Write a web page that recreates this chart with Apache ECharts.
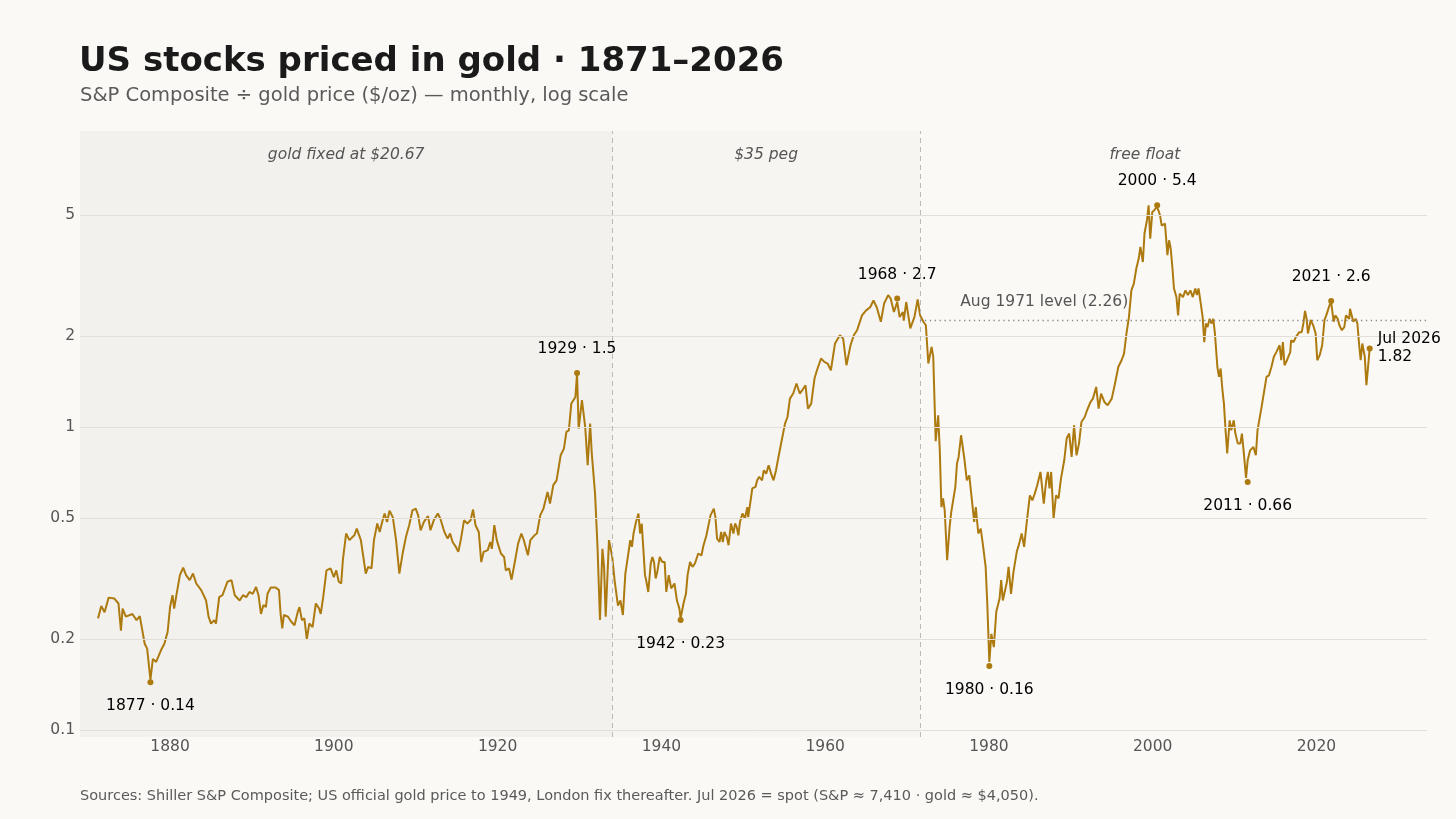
<!DOCTYPE html>
<html>
<head>
<meta charset="utf-8">
<script src="https://cdn.jsdelivr.net/npm/echarts@6/dist/echarts.min.js"></script>
<style>
  html, body { margin: 0; padding: 0; background: #faf9f6; }
  #chart { width: 1456px; height: 819px; }
</style>
</head>
<body>
<div id="chart"></div>
<script>
// Monthly-ish readings of S&P Composite / gold price (ratio), decimal years
const years = [
  1871.2, 1871.6, 1872.0, 1872.5, 1873.2, 1873.7, 1874.0, 1874.2, 1874.6, 1875.4, 1875.9, 1876.3, 1876.9, 1877.2, 1877.6, 1877.9, 1878.3, 1878.9, 1879.3, 1879.7,
  1880.0, 1880.3, 1880.5, 1880.8, 1881.2, 1881.6, 1881.95, 1882.4, 1882.8, 1883.2, 1883.8, 1884.4, 1884.7, 1885.0, 1885.4, 1885.6, 1886.0, 1886.4, 1887.0, 1887.5,
  1887.9, 1888.5, 1888.9, 1889.3, 1889.7, 1890.1, 1890.5, 1890.8, 1891.1, 1891.4, 1891.7, 1891.9, 1892.3, 1892.9, 1893.3, 1893.5, 1893.7, 1893.9, 1894.4, 1894.8,
  1895.2, 1895.6, 1895.8, 1896.1, 1896.4, 1896.7, 1897.0, 1897.4, 1897.8, 1898.2, 1898.4, 1898.7, 1899.1, 1899.6, 1900.0, 1900.3, 1900.6, 1900.9, 1901.1, 1901.5,
  1901.9, 1902.5, 1902.8, 1903.3, 1903.9, 1904.2, 1904.6, 1904.9, 1905.3, 1905.6, 1905.9, 1906.2, 1906.5, 1906.8, 1907.2, 1907.6, 1908.0, 1908.4, 1908.8, 1909.2,
  1909.6, 1910.0, 1910.3, 1910.6, 1911.0, 1911.5, 1911.8, 1912.2, 1912.7, 1913.0, 1913.5, 1913.9, 1914.2, 1914.5, 1914.9, 1915.2, 1915.5, 1915.9, 1916.3, 1916.7,
  1917.0, 1917.3, 1917.7, 1918.0, 1918.3, 1918.8, 1919.1, 1919.3, 1919.6, 1919.9, 1920.4, 1920.8, 1921.0, 1921.4, 1921.7, 1922.1, 1922.5, 1922.9, 1923.2, 1923.7,
  1924.0, 1924.5, 1924.8, 1925.2, 1925.6, 1926.1, 1926.4, 1926.8, 1927.2, 1927.7, 1928.1, 1928.4, 1928.7, 1929.0, 1929.5, 1929.7, 1929.9, 1930.3, 1930.7, 1931.0,
  1931.3, 1931.5, 1931.9, 1932.2, 1932.5, 1932.8, 1933.0, 1933.2, 1933.6, 1934.0, 1934.3, 1934.7, 1935.0, 1935.3, 1935.6, 1935.9, 1936.2, 1936.4, 1936.6, 1936.9,
  1937.2, 1937.4, 1937.6, 1938.0, 1938.1, 1938.4, 1938.7, 1938.9, 1939.1, 1939.3, 1939.5, 1939.8, 1940.1, 1940.4, 1940.6, 1940.9, 1941.2, 1941.6, 1941.9, 1942.2,
  1942.35, 1942.7, 1943.0, 1943.2, 1943.5, 1943.8, 1944.1, 1944.5, 1944.9, 1945.1, 1945.5, 1946.0, 1946.4, 1946.6, 1946.8, 1947.1, 1947.3, 1947.5, 1947.7, 1948.0,
  1948.2, 1948.5, 1948.8, 1949.0, 1949.2, 1949.4, 1949.6, 1949.9, 1950.2, 1950.5, 1950.6, 1950.9, 1951.1, 1951.5, 1951.7, 1951.95, 1952.3, 1952.5, 1952.8, 1953.1,
  1953.4, 1953.7, 1954.0, 1954.3, 1954.7, 1955.1, 1955.4, 1955.7, 1956.1, 1956.5, 1956.9, 1957.2, 1957.6, 1957.9, 1958.3, 1958.7, 1959.0, 1959.5, 1959.9, 1960.3,
  1960.7, 1961.2, 1961.8, 1962.2, 1962.6, 1962.8, 1963.1, 1963.5, 1963.9, 1964.5, 1965.0, 1965.5, 1965.9, 1966.3, 1966.8, 1967.2, 1967.7, 1968.0, 1968.4, 1968.8,
  1969.1, 1969.5, 1969.6, 1969.9, 1970.4, 1970.9, 1971.3, 1971.6, 1972.0, 1972.3, 1972.6, 1973.0, 1973.2, 1973.5, 1973.8, 1974.0, 1974.2, 1974.4, 1974.6, 1974.9,
  1975.2, 1975.4, 1975.6, 1975.9, 1976.1, 1976.3, 1976.6, 1977.0, 1977.3, 1977.6, 1977.9, 1978.2, 1978.4, 1978.7, 1979.0, 1979.3, 1979.6, 1979.8, 1980.05, 1980.3,
  1980.6, 1980.9, 1981.3, 1981.5, 1981.7, 1982.2, 1982.4, 1982.7, 1983.0, 1983.4, 1983.7, 1984.0, 1984.3, 1984.6, 1985.0, 1985.3, 1985.6, 1985.9, 1986.3, 1986.7,
  1987.0, 1987.2, 1987.4, 1987.6, 1987.9, 1988.2, 1988.5, 1988.8, 1989.2, 1989.5, 1989.8, 1990.1, 1990.4, 1990.7, 1991.0, 1991.3, 1991.7, 1992.0, 1992.4, 1992.7,
  1993.1, 1993.4, 1993.7, 1994.1, 1994.5, 1995.0, 1995.4, 1995.8, 1996.2, 1996.5, 1996.8, 1997.1, 1997.4, 1997.7, 1998.0, 1998.3, 1998.5, 1998.8, 1999.0, 1999.3,
  1999.5, 1999.7, 1999.95, 2000.2, 2000.5, 2000.7, 2000.9, 2001.1, 2001.5, 2001.8, 2002.0, 2002.2, 2002.4, 2002.6, 2002.9, 2003.1, 2003.3, 2003.7, 2004.0, 2004.3,
  2004.6, 2004.9, 2005.2, 2005.4, 2005.6, 2005.9, 2006.1, 2006.3, 2006.5, 2006.7, 2006.95, 2007.2, 2007.4, 2007.6, 2007.9, 2008.1, 2008.3, 2008.5, 2008.7, 2008.9,
  2009.1, 2009.4, 2009.6, 2009.9, 2010.1, 2010.4, 2010.7, 2010.9, 2011.1, 2011.4, 2011.6, 2011.9, 2012.3, 2012.6, 2012.8, 2013.3, 2013.5, 2013.9, 2014.2, 2014.5,
  2014.8, 2015.1, 2015.5, 2015.7, 2015.9, 2016.1, 2016.4, 2016.8, 2016.9, 2017.2, 2017.5, 2017.9, 2018.2, 2018.4, 2018.6, 2018.8, 2018.96, 2019.3, 2019.6, 2019.9,
  2020.1, 2020.4, 2020.7, 2020.98, 2021.2, 2021.6, 2021.8, 2022.1, 2022.3, 2022.6, 2022.8, 2023.1, 2023.4, 2023.6, 2024.0, 2024.1, 2024.5, 2024.8, 2025.0, 2025.2,
  2025.4, 2025.6, 2025.9, 2026.1, 2026.3, 2026.5
];
const ratios = [
  0.234, 0.257, 0.245, 0.274, 0.272, 0.262, 0.213, 0.252, 0.237, 0.242, 0.231, 0.238, 0.193, 0.186, 0.147, 0.172, 0.168, 0.184, 0.193, 0.211,
  0.255, 0.279, 0.252, 0.282, 0.325, 0.344, 0.325, 0.313, 0.329, 0.305, 0.290, 0.268, 0.237, 0.225, 0.231, 0.225, 0.275, 0.279, 0.309, 0.313,
  0.279, 0.268, 0.279, 0.275, 0.286, 0.282, 0.297, 0.279, 0.242, 0.259, 0.255, 0.282, 0.296, 0.296, 0.290, 0.242, 0.217, 0.240, 0.237, 0.228,
  0.222, 0.246, 0.255, 0.231, 0.234, 0.200, 0.225, 0.219, 0.262, 0.252, 0.242, 0.275, 0.337, 0.342, 0.320, 0.337, 0.309, 0.305, 0.364, 0.446,
  0.424, 0.440, 0.463, 0.424, 0.329, 0.346, 0.342, 0.424, 0.481, 0.451, 0.487, 0.519, 0.487, 0.530, 0.505, 0.424, 0.329, 0.383, 0.434, 0.475,
  0.532, 0.539, 0.512, 0.457, 0.487, 0.509, 0.457, 0.493, 0.519, 0.500, 0.451, 0.429, 0.446, 0.418, 0.403, 0.388, 0.424, 0.493, 0.481, 0.493,
  0.535, 0.475, 0.451, 0.359, 0.388, 0.393, 0.418, 0.397, 0.475, 0.424, 0.383, 0.373, 0.337, 0.342, 0.314, 0.359, 0.413, 0.446, 0.424, 0.378,
  0.424, 0.440, 0.446, 0.512, 0.539, 0.612, 0.560, 0.644, 0.668, 0.808, 0.850, 0.965, 0.977, 1.197, 1.259, 1.50, 0.990, 1.228, 1.00, 0.749,
  1.028, 0.819, 0.604, 0.403, 0.231, 0.397, 0.346, 0.237, 0.424, 0.373, 0.310, 0.258, 0.268, 0.240, 0.329, 0.373, 0.424, 0.403, 0.446, 0.487,
  0.519, 0.446, 0.481, 0.325, 0.317, 0.286, 0.355, 0.373, 0.359, 0.317, 0.333, 0.373, 0.359, 0.359, 0.286, 0.325, 0.294, 0.305, 0.268, 0.252,
  0.234, 0.262, 0.282, 0.325, 0.359, 0.346, 0.355, 0.383, 0.378, 0.403, 0.440, 0.512, 0.539, 0.505, 0.429, 0.418, 0.451, 0.418, 0.451, 0.434,
  0.408, 0.481, 0.446, 0.481, 0.469, 0.440, 0.487, 0.519, 0.500, 0.545, 0.505, 0.574, 0.628, 0.636, 0.668, 0.686, 0.668, 0.721, 0.703, 0.749,
  0.703, 0.668, 0.721, 0.798, 0.906, 1.028, 1.081, 1.243, 1.292, 1.394, 1.292, 1.325, 1.376, 1.152, 1.197, 1.448, 1.542, 1.686, 1.643, 1.623,
  1.542, 1.888, 2.013, 1.961, 1.602, 1.623, 1.865, 2.013, 2.09, 2.34, 2.43, 2.49, 2.62, 2.49, 2.23, 2.56, 2.73, 2.66, 2.40, 2.59,
  2.31, 2.40, 2.25, 2.59, 2.12, 2.31, 2.64, 2.34, 2.23, 2.17, 1.623, 1.84, 1.71, 0.90, 1.095, 0.839, 0.545, 0.582, 0.532, 0.364,
  0.469, 0.525, 0.519, 0.636, 0.759, 0.798, 0.941, 0.788, 0.668, 0.694, 0.582, 0.487, 0.545, 0.446, 0.463, 0.403, 0.346, 0.262, 0.168, 0.208,
  0.188, 0.246, 0.272, 0.313, 0.268, 0.309, 0.346, 0.282, 0.333, 0.388, 0.413, 0.446, 0.403, 0.481, 0.596, 0.574, 0.604, 0.644, 0.712, 0.560,
  0.668, 0.712, 0.628, 0.712, 0.500, 0.596, 0.582, 0.677, 0.778, 0.92, 0.953, 0.798, 1.015, 0.808, 0.883, 1.041, 1.081, 1.14, 1.21, 1.243,
  1.358, 1.152, 1.292, 1.212, 1.182, 1.243, 1.394, 1.581, 1.664, 1.751, 2.04, 2.31, 2.83, 2.98, 3.34, 3.61, 3.94, 3.51, 4.36, 4.82,
  5.40, 4.19, 5.13, 5.20, 5.35, 5.20, 5.0, 4.63, 4.70, 3.70, 4.14, 3.89, 3.38, 2.87, 2.69, 2.34, 2.76, 2.69, 2.83, 2.73,
  2.83, 2.69, 2.87, 2.73, 2.87, 2.53, 2.31, 1.91, 2.20, 2.14, 2.28, 2.20, 2.28, 2.04, 1.581, 1.466, 1.562, 1.342, 1.197, 0.977,
  0.819, 1.054, 0.977, 1.054, 0.953, 0.883, 0.883, 0.953, 0.839, 0.68, 0.778, 0.839, 0.861, 0.808, 0.977, 1.167, 1.259, 1.466, 1.484, 1.581,
  1.71, 1.77, 1.865, 1.664, 1.91, 1.602, 1.664, 1.77, 1.937, 1.91, 1.987, 2.06, 2.06, 2.20, 2.42, 2.28, 2.04, 2.26, 2.17, 2.04,
  1.664, 1.73, 1.865, 2.26, 2.34, 2.53, 2.58, 2.23, 2.34, 2.28, 2.17, 2.09, 2.14, 2.34, 2.28, 2.46, 2.23, 2.28, 2.20, 1.89,
  1.664, 1.89, 1.71, 1.376, 1.581, 1.82
];

// Highs and lows called out on the chart
const annYears = [1877.6, 1929.7, 1942.35, 1968.8, 1980.05, 2000.55, 2011.6, 2021.8, 2026.5];
const annValues = [0.144, 1.51, 0.231, 2.66, 0.163, 5.40, 0.66, 2.61, 1.82];
const annLabels = ['1877 · 0.14', '1929 · 1.5', '1942 · 0.23', '1968 · 2.7', '1980 · 0.16', '2000 · 5.4', '2011 · 0.66', '2021 · 2.6', 'Jul 2026\n1.82'];
const annSides = ['bottom', 'top', 'bottom', 'top', 'bottom', 'top', 'bottom', 'top', 'right'];

// Monetary regimes
const regimeNames = ['gold fixed at $20.67', '$35 peg', 'free float'];
const regimeStarts = [1869, 1934, 1971.58];
const regimeEnds = [1934, 1971.58, 2026.5];

const yTicks = [0.1, 0.2, 0.5, 1, 2, 5];
const xTicks = [1880, 1900, 1920, 1940, 1960, 1980, 2000, 2020];
const aug1971Level = 2.26;

const FONT = 'DejaVu Sans';
const GOLD = '#ad7a0f';
const regimeFills = ['#f2f1ed', '#f6f5f1', 'rgba(0,0,0,0)'];
const xMin = 1869;
const xMax = 2033.5;

const chart = echarts.init(document.getElementById('chart'));

const lineData = years.map((y, i) => [y, ratios[i]]);

const areaData = regimeNames.map((name, i) => [
  { name: name, xAxis: regimeStarts[i], itemStyle: { color: regimeFills[i] } },
  { xAxis: regimeEnds[i] }
]);

const dotData = annYears.map((y, i) => ({
  value: [y, annValues[i]],
  label: {
    show: true,
    formatter: annLabels[i],
    position: annSides[i],
    distance: annSides[i] === 'right' ? 5 : 12
  }
}));

chart.setOption({
  backgroundColor: '#faf9f6',
  animation: false,
  textStyle: { fontFamily: FONT },
  title: [
    {
      text: 'US stocks priced in gold · 1871–2026',
      left: 79, top: 45, padding: 0,
      textStyle: { fontFamily: FONT, fontSize: 34, fontWeight: 'bold', color: '#1a1a1a' }
    },
    {
      text: 'S&P Composite ÷ gold price ($/oz) — monthly, log scale',
      left: 80, top: 86, padding: 0,
      textStyle: { fontFamily: FONT, fontSize: 19.5, fontWeight: 'normal', color: '#5a5a5a' }
    },
    {
      text: 'Sources: Shiller S&P Composite; US official gold price to 1949, London fix thereafter. Jul 2026 = spot (S&P ≈ 7,410 · gold ≈ $4,050).',
      left: 80, top: 789, padding: 0,
      textStyle: { fontFamily: FONT, fontSize: 14.5, fontWeight: 'normal', color: '#5a5a5a' }
    }
  ],
  grid: { left: 80, right: 29, top: 131, bottom: 82 },
  xAxis: {
    type: 'value',
    min: xMin,
    max: xMax,
    axisLine: { show: false },
    axisTick: { show: false },
    splitLine: { show: false },
    axisLabel: {
      customValues: xTicks,
      margin: 2,
      color: '#555',
      fontSize: 15.5,
      fontFamily: FONT,
      formatter: (v) => String(v)
    }
  },
  yAxis: {
    type: 'log',
    logBase: 10,
    min: 0.095,
    max: 9.5,
    axisLine: { show: false },
    axisTick: { show: false },
    splitLine: { show: false },
    axisLabel: {
      customValues: yTicks,
      margin: 5,
      color: '#555',
      fontSize: 15.5,
      fontFamily: FONT,
      formatter: (v) => String(+v.toPrecision(3))
    }
  },
  series: [
    {
      // regime shading and labels
      type: 'line',
      data: [],
      z: 0,
      silent: true,
      markArea: {
        silent: true,
        label: {
          show: true,
          position: 'insideTop',
          distance: 16,
          color: '#555',
          fontStyle: 'italic',
          fontSize: 15.5,
          fontFamily: FONT
        },
        data: areaData
      }
    },
    {
      // gridlines, regime dividers, Aug 1971 reference level
      type: 'line',
      data: [],
      z: 1,
      silent: true,
      markLine: {
        silent: true,
        symbol: ['none', 'none'],
        label: { show: false },
        data: [
          ...yTicks.map((t) => ({ yAxis: t, lineStyle: { color: '#e2dfda', width: 1, type: 'solid' } })),
          { xAxis: regimeStarts[1], lineStyle: { color: '#bdbab5', width: 1, type: [5, 4] } },
          { xAxis: regimeStarts[2], lineStyle: { color: '#bdbab5', width: 1, type: [5, 4] } },
          [
            { coord: [regimeStarts[2], aug1971Level], lineStyle: { color: '#8a8a8a', width: 1.3, type: [1.3, 3.6] } },
            { coord: [xMax, aug1971Level] }
          ]
        ]
      }
    },
    {
      name: 'ratio',
      type: 'line',
      data: lineData,
      z: 3,
      showSymbol: false,
      symbol: 'none',
      lineStyle: { color: GOLD, width: 2 },
      silent: true
    },
    {
      // label for the reference level
      type: 'scatter',
      data: [[1976.5, aug1971Level]],
      symbolSize: 0,
      z: 4,
      silent: true,
      itemStyle: { opacity: 1 },
      label: {
        show: true,
        formatter: 'Aug 1971 level (2.26)',
        position: 'right',
        distance: 0,
        offset: [0, -18],
        color: '#555',
        fontSize: 15.5,
        fontFamily: FONT
      }
    },
    {
      type: 'scatter',
      data: dotData,
      symbolSize: 6,
      z: 5,
      silent: true,
      itemStyle: { color: GOLD, opacity: 1 },
      label: {
        color: '#000',
        fontSize: 15.5,
        fontFamily: FONT,
        lineHeight: 18
      }
    }
  ]
});
</script>
</body>
</html>
